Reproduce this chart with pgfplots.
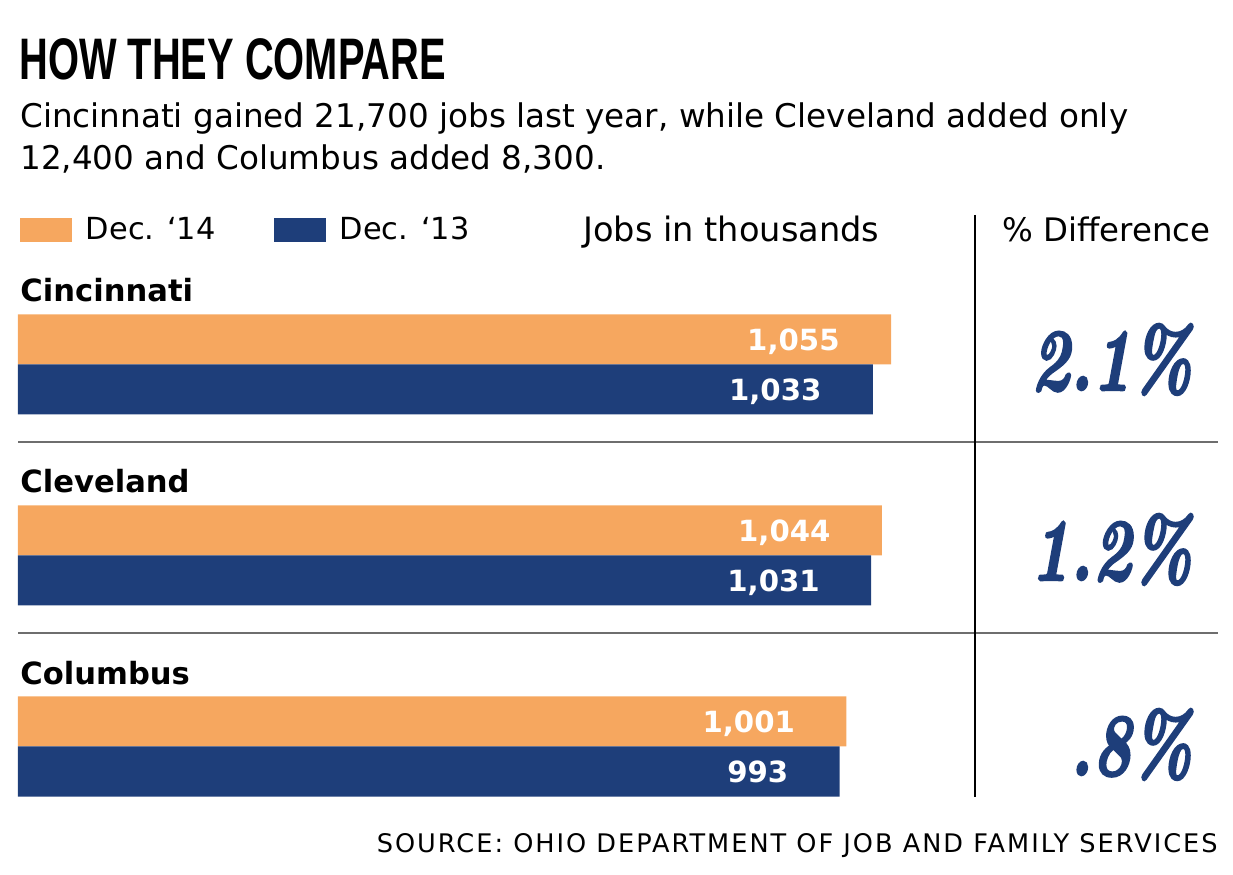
\documentclass[border=0pt]{standalone}
\usepackage{pgfplots}
\pgfplotsset{compat=1.18}
\usepackage{fontspec}
\usepackage{graphicx}
\setmainfont{DejaVu Sans}
\newfontfamily\titlefont[FakeStretch=0.68]{Liberation Sans}
\newfontfamily\pctfont[FakeBold=3]{lmroman10-bolditalic.otf}
\newfontfamily\srcfont[LetterSpace=7.8]{DejaVu Sans}
\definecolor{dorange}{RGB}{246,167,95}
\definecolor{dnavy}{RGB}{30,62,122}
\definecolor{sepgray}{RGB}{110,110,110}
\pgfplotsset{mylegend/.style={legend image code/.code={\fill[##1] (0pt,-6pt) rectangle (26pt,6pt);}}}
\begin{document}
\begin{tikzpicture}
\path[use as bounding box] (0,0) rectangle (616.5pt,437pt);
\begin{axis}[
  at={(0,0)}, anchor=south west,
  scale only axis, width=616.5pt, height=437pt,
  hide axis, clip=false,
  xmin=-21.75, xmax=1468.3,
  ymin=0, ymax=874,
  xbar, bar width=25pt,
  /pgf/number format/1000 sep={,},
  /pgf/number format/assume math mode=true,
  nodes near coords,
  every node near coord/.append style={anchor=east, xshift=-25.5pt, text=white, inner sep=0pt,
     font=\bfseries\fontsize{14.6}{14.6}\selectfont, text depth=0pt},
  legend style={draw=none, fill=none, at={(0.0162,0.7517)}, anchor=north west,
     legend columns=2, inner sep=0pt, outer sep=0pt,
     font=\fontsize{15.2}{15.2}\selectfont,
     nodes={inner sep=0pt},
     /tikz/every odd column/.append style={column sep=7pt},
     /tikz/every even column/.append style={column sep=29pt}},
  legend cell align=left,
]
\addplot[fill=dorange, draw=none, bar shift=0pt, mylegend] table {
x y
1055 534.5
1044 343.5
1001 152.5
};
\addlegendentry{Dec. ‘14}
\addplot[fill=dnavy, draw=none, bar shift=0pt, mylegend] table {
x y
1033 484.5
1031 293.5
993 102.5
};
\addlegendentry{Dec. ‘13}
\end{axis}
\begin{scope}[shift={(0pt,437pt)}, x=0.5pt, y=-0.5pt]
  \node[anchor=base west, inner sep=0pt] at (19,80) {\titlefont\bfseries\fontsize{29.3}{29.3}\selectfont HOW THEY COMPARE};
  \node[anchor=base west, inner sep=0pt] at (20,128) {\fontsize{16.3}{16.3}\selectfont Cincinnati gained 21,700 jobs last year, while Cleveland added only};
  \node[anchor=base west, inner sep=0pt] at (20,170) {\fontsize{16.3}{16.3}\selectfont 12,400 and Columbus added 8,300.};
  \node[anchor=base west, inner sep=0pt] at (583,242) {\fontsize{16.8}{16.8}\selectfont Jobs in thousands};
  \node[anchor=base west, inner sep=0pt] at (1002,242) {\fontsize{16.2}{16.2}\selectfont \% Difference};
  \node[anchor=base west, inner sep=0pt] at (20,302) {\bfseries\fontsize{15.3}{15.3}\selectfont Cincinnati};
  \node[anchor=base west, inner sep=0pt] at (20,493) {\bfseries\fontsize{15.3}{15.3}\selectfont Cleveland};
  \node[anchor=base west, inner sep=0pt] at (20,685) {\bfseries\fontsize{15.3}{15.3}\selectfont Columbus};
  \node[anchor=base east, inner sep=0pt, text=dnavy] at (1193,390) {\scalebox{0.74}[1]{\pctfont\fontsize{44}{44}\selectfont 2.1\%}};
  \node[anchor=base east, inner sep=0pt, text=dnavy] at (1193,580) {\scalebox{0.74}[1]{\pctfont\fontsize{44}{44}\selectfont 1.2\%}};
  \node[anchor=base east, inner sep=0pt, text=dnavy] at (1193,775) {\scalebox{0.74}[1]{\pctfont\fontsize{44}{44}\selectfont .8\%}};
  \node[anchor=base east, inner sep=0pt] at (1218,852) {\srcfont\fontsize{12.8}{12.8}\selectfont SOURCE: OHIO DEPARTMENT OF JOB AND FAMILY SERVICES};
  \draw[sepgray, line width=1pt] (18,442) -- (1218,442);
  \draw[sepgray, line width=1pt] (18,633) -- (1218,633);
  \draw[black, line width=0.7pt] (975,215) -- (975,797);
\end{scope}
\end{tikzpicture}
\end{document}
